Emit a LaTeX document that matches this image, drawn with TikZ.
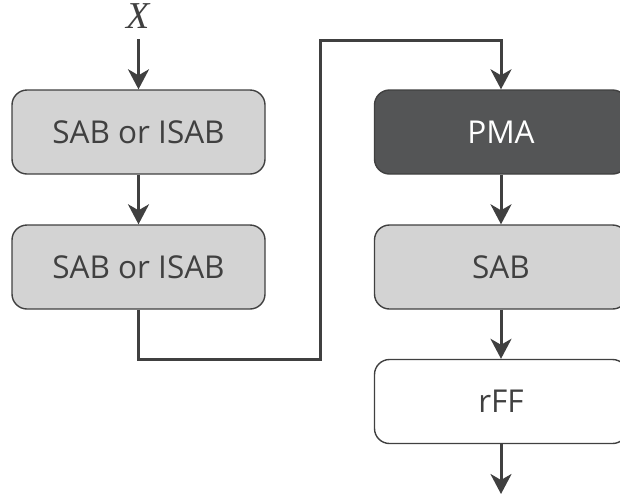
\documentclass[tikz,border=0pt]{standalone}
\usepackage{fontspec}
\setmainfont{Open Sans}
\newfontfamily\seriffont{Liberation Serif}
\usetikzlibrary{arrows.meta}
\definecolor{edgegray}{HTML}{404040}
\definecolor{boxgray}{HTML}{D3D3D3}
\definecolor{darkbox}{HTML}{545556}
\definecolor{textgray}{HTML}{404040}
\tikzset{
  block/.style={draw=edgegray, line width=1.4pt, rounded corners=15pt,
    minimum width=253pt, minimum height=84pt, inner sep=0pt,
    font=\fontsize{31.5}{36}\selectfont},
  lightblock/.style={block, fill=boxgray, text=textgray},
  darkblock/.style={block, fill=darkbox, text=white},
  whiteblock/.style={block, fill=white, text=textgray},
  flow/.style={draw=edgegray, line width=3pt,
    -{Stealth[length=20pt,width=21pt,inset=6pt]}},
}
\begin{document}
\begin{tikzpicture}[x=1pt,y=-1pt]
  \useasboundingbox (0,0) rectangle (620,499);
  \clip (0,0) rectangle (620,499);
  % encoder column
  \node[lightblock] (enc1) at (138.5,132) {SAB or ISAB};
  \node[lightblock] (enc2) at (138.5,267) {SAB or ISAB};
  % decoder column
  \node[darkblock]  (pma)  at (501,132) {PMA};
  \node[lightblock] (dsab) at (501,267) {SAB};
  \node[whiteblock] (rff)  at (501,401.5) {rFF};
  % input label
  \node[font=\seriffont\itshape\fontsize{38}{40}\selectfont, text=textgray,
        anchor=base, inner sep=0pt] (xin) at (138,28.5) {X};
  \coordinate (xstart) at (138.5,39);
  \coordinate (out) at (501,494);
  % connectors
  \draw[flow] (xstart) -- (enc1.north);
  \draw[flow] (enc1.south) -- (enc2.north);
  \draw[flow] (enc2.south) |- (320,359) |- (501,40) -- (pma.north);
  \draw[flow] (pma.south) -- (dsab.north);
  \draw[flow] (dsab.south) -- (rff.north);
  \draw[flow] (rff.south) -- (out);
\end{tikzpicture}
\end{document}
